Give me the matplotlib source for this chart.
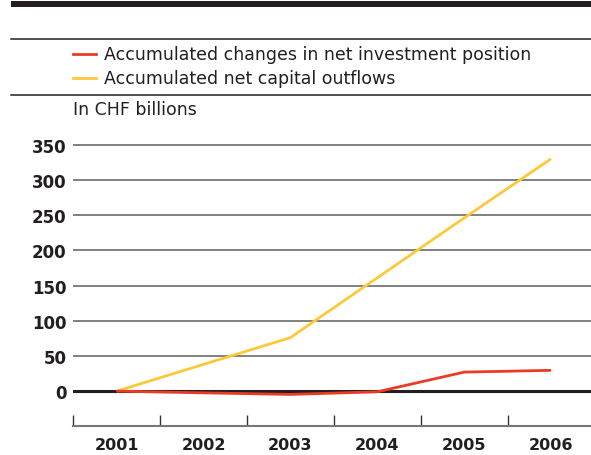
import matplotlib
matplotlib.use("Agg")
import matplotlib.pyplot as plt
from matplotlib.lines import Line2D
from matplotlib.patches import Rectangle

years = [2001, 2002, 2003, 2004, 2005, 2006]
investment_position = [0, -2.5, -4.7, -1, 27, 29.5]
capital_outflows = [0, 38, 76, 161, 246, 330]
y_ticks = [0, 50, 100, 150, 200, 250, 300, 350]

red = "#ec3b25"
yellow = "#fdc93a"
ink = "#231f20"

W, H = 591, 456
fig = plt.figure(figsize=(W / 100, H / 100), dpi=100)

def fx(px):
    return px / W

def fy(py):
    return 1 - py / H

# header rules
fig.patches.append(Rectangle((fx(11), fy(8.3)), 1 - fx(11), (8.3 - 2.3) / H,
                             transform=fig.transFigure, color=ink, lw=0))
for yy in (39.5, 96):
    fig.lines.append(Line2D([fx(11), 1], [fy(yy), fy(yy)], transform=fig.transFigure,
                            color=ink, lw=1.1))

# legend
for yy, c, lab in [(54.7, red, "Accumulated changes in net investment position"),
                   (79.3, yellow, "Accumulated net capital outflows")]:
    fig.lines.append(Line2D([fx(73), fx(96)], [fy(yy), fy(yy)], transform=fig.transFigure,
                            color=c, lw=2))
    fig.text(fx(104), fy(yy), lab, ha="left", va="center", fontsize=12.5, color=ink)

fig.text(fx(73), fy(110), "In CHF billions", ha="left", va="center", fontsize=12.5, color=ink)

# plot area
ax = fig.add_axes([fx(73.3), (H - 427.3) / H, 1 - fx(73.3), 288.6 / H])
ax.set_xlim(2000.5, 2006.46)
ax.set_ylim(-50, 360)

for v in y_ticks[1:]:
    ax.axhline(v, color="#5e5e5e", lw=1.1, zorder=1)
ax.axhline(0, color=ink, lw=2.2, zorder=2)

ax.plot(years, capital_outflows, color=yellow, lw=2, zorder=3, solid_capstyle="butt")
ax.plot(years, investment_position, color=red, lw=2, zorder=4, solid_capstyle="butt")

for s in ["top", "right", "left"]:
    ax.spines[s].set_visible(False)
ax.spines["bottom"].set_color("#777777")
ax.spines["bottom"].set_linewidth(1.5)

ax.set_yticks(y_ticks)
ax.set_yticklabels([str(v) for v in y_ticks], fontsize=12, fontweight="bold", color=ink)
ax.tick_params(axis="y", length=0, pad=5)

ax.set_xticks([y - 0.5 for y in years])
ax.set_xticklabels([])
ax.tick_params(axis="x", which="major", direction="in", length=8, width=1, color="#333333")
ax.set_xticks(years, minor=True)
ax.set_xticklabels([str(y) for y in years], minor=True, fontsize=11.5,
                   fontweight="bold", color=ink)
ax.tick_params(axis="x", which="minor", length=0, pad=7.5)

fig.savefig("out.png", dpi=100)
